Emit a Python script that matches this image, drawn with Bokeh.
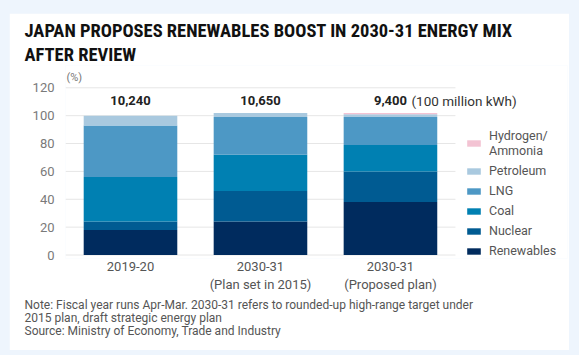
from bokeh.plotting import figure
from bokeh.models import ColumnDataSource, FixedTicker, Label, Title, Legend, LegendItem
from bokeh.layouts import column
from bokeh.embed import file_html
from bokeh.resources import INLINE

# ---- data ----
periods = ["2019-20", "2030-31\n(Plan set in 2015)", "2030-31\n(Proposed plan)"]
totals = ["10,240", "10,650", "9,400"]
renewables = [18, 24, 38]
nuclear = [6, 22, 22]
coal = [32, 26, 19]
lng = [37, 27, 20]
petroleum = [7, 3, 2]
hydrogen = [0, 0, 1]
keys = ["Renewables", "Nuclear", "Coal", "LNG", "Petroleum", "Hydrogen"]
legend_labels = ["Renewables", "Nuclear", "Coal", "LNG", "Petroleum", "Hydrogen/\nAmmonia"]
colors = ["#002b5e", "#005b92", "#0080b2", "#4d98c5", "#a9c9df", "#f3c3d3"]
yticks = [0, 20, 40, 60, 80, 100, 120]

xs = list(range(len(periods)))
src = ColumnDataSource(dict(x=xs, Renewables=renewables, Nuclear=nuclear, Coal=coal,
                            LNG=lng, Petroleum=petroleum, Hydrogen=hydrogen))

# page offsets of the figure inside the light-blue card background
OX, OY = 9, 13
W, H = 560, 337
FL_PAGE, FB_PAGE = 65, 258  # frame left / bottom on the page

p = figure(width=W, height=H, x_range=(-0.5, 3.362), y_range=(-2.5, 136),
           output_backend="svg", toolbar_location=None,
           min_border_left=FL_PAGE - OX, min_border_right=2, min_border_top=52,
           min_border_bottom=92)
p.border_fill_color = "white"
p.background_fill_color = "white"
p.outline_line_color = None
p.xgrid.grid_line_color = None
p.ygrid.grid_line_color = None

# horizontal grid lines over the bar area only
p.segment(x0=[-0.5] * len(yticks), x1=[2.5] * len(yticks), y0=yticks, y1=yticks,
          line_color="#e6e6e6", line_width=1)

rs = p.vbar_stack(keys, x="x", width=0.72, color=colors, line_color=None, source=src)

p.yaxis.ticker = FixedTicker(ticks=yticks)
p.xaxis.ticker = FixedTicker(ticks=xs)
p.xaxis.major_label_overrides = {i: t for i, t in enumerate(periods)}
for ax in (p.xaxis[0], p.yaxis[0]):
    ax.axis_line_color = None
    ax.major_tick_line_color = None
    ax.minor_tick_line_color = None
    ax.major_label_text_font = "Roboto"
    ax.major_label_text_font_size = "13px"
p.yaxis.major_label_text_color = "#7a7a7a"
p.yaxis.major_label_standoff = 5
p.xaxis.major_label_text_color = "#555555"
p.xaxis.major_label_standoff = -6


def lab(X, Y, text, size="13px", color="#222222", bold=False, align="left"):
    p.add_layout(Label(x=X - FL_PAGE, y=FB_PAGE - Y, x_units="screen", y_units="screen", text=text,
                       text_font="Roboto", text_font_size=size, text_color=color,
                       text_font_style="bold" if bold else "normal",
                       text_align=align, text_baseline="middle"))


lab(66, 77, "(%)", "11px", "#777777")
for i, t in enumerate(totals):
    p.add_layout(Label(x=i, y=FB_PAGE - 100, y_units="screen", text=t, text_font="Roboto",
                       text_font_size="13px", text_font_style="bold", text_color="#222222",
                       text_align="center", text_baseline="middle"))
lab(411, 100, "(100 million kWh)", "13.5px", "#333333")

items = [LegendItem(label=legend_labels[i], renderers=[rs[i]]) for i in range(len(keys) - 1, -1, -1)]
legend = Legend(items=items, location=(465 - FL_PAGE, 0), orientation="vertical",
                glyph_width=17, glyph_height=8, label_height=14, spacing=5, padding=0, margin=0,
                label_standoff=7, label_text_font="Roboto", label_text_font_size="12.5px",
                label_text_color="#555555", border_line_color=None, background_fill_alpha=0,
                label_text_line_height=1.5)
p.add_layout(legend)

TF = "'Roboto Condensed', 'Liberation Sans Narrow', Roboto"
p.add_layout(Title(text="AFTER REVIEW", text_font=TF, text_font_size="18.5px", text_font_style="bold",
                   text_color="#111111", align="left", offset=-41, standoff=0), "above")
p.add_layout(Title(text="JAPAN PROPOSES RENEWABLES BOOST IN 2030-31 ENERGY MIX", text_font=TF,
                   text_font_size="18.5px", text_font_style="bold", text_color="#111111",
                   align="left", offset=-41, standoff=0), "above")

notes = ["Note: Fiscal year runs Apr-Mar. 2030-31 refers to rounded-up high-range target under",
         "2015 plan, draft strategic energy plan",
         "Source: Ministry of Economy, Trade and Industry"]
p.add_layout(Title(text="\n".join(notes), text_font="Roboto", text_font_size="12px",
                   text_font_style="normal", text_color="#555555", align="left", offset=-41,
                   standoff=3, text_line_height=0.93), "below")

layout = column(p, styles={"background-color": "#eef5fd", "padding": f"{OY}px 10px 5px {OX}px"})
open("out.html", "w").write(file_html(layout, INLINE))
